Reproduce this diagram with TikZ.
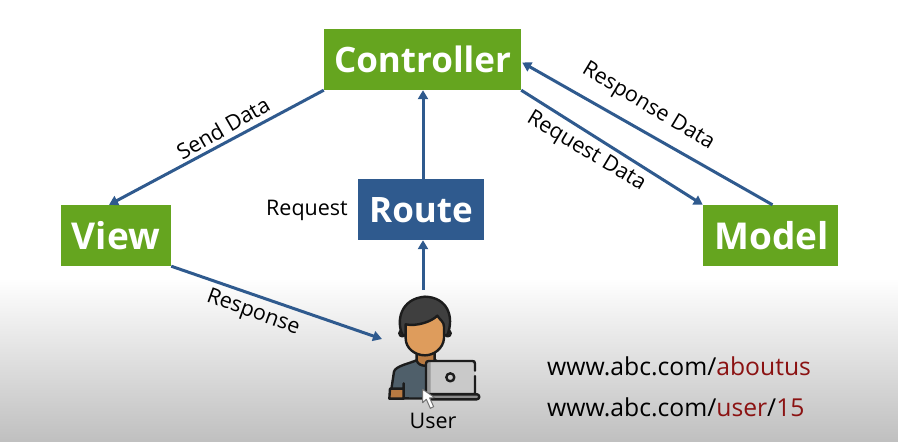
\documentclass[tikz,border=0pt]{standalone}
\usepackage{fontspec}
\setmainfont{Open Sans}
\usetikzlibrary{arrows.meta}
\definecolor{boxgreen}{HTML}{65A51F}
\definecolor{boxblue}{HTML}{2F5A8E}
\definecolor{urlred}{HTML}{8B1212}
\definecolor{iconline}{HTML}{1C1C1C}
\definecolor{skin}{HTML}{DE9C5C}
\definecolor{skindark}{HTML}{B87A42}
\definecolor{hair}{HTML}{3F3F3F}
\definecolor{shirt}{HTML}{4F5F6A}
\definecolor{laptop}{HTML}{C9C9C9}
\tikzset{
  greenbox/.style={fill=boxgreen,text=white,font=\fontsize{35}{35}\selectfont\bfseries,anchor=center,inner sep=0pt},
  bigbox/.style={greenbox,font=\fontsize{37}{37}\selectfont\bfseries},
  bluebox/.style={greenbox,fill=boxblue},
  link/.style={draw=boxblue,line width=3pt,-{Triangle[length=9pt,width=10pt]}},
  lbl/.style={font=\fontsize{21.5}{21.5}\selectfont,text=black,inner sep=0pt},
  urltext/.style={font=\fontsize{24.7}{24.7}\selectfont,text=black,anchor=base west,inner sep=0pt},
  iconstroke/.style={draw=iconline,line width=2.4pt,line join=round,line cap=round}
}
\begin{document}
\begin{tikzpicture}[x=1pt,y=-1pt]
\useasboundingbox (0,0) rectangle (898,442);
\fill[white] (0,0) rectangle (898,442);
\shade[top color=white,bottom color=black!25] (0,278) rectangle (898,442);

\node[greenbox,minimum width=197pt,minimum height=61pt] (ctrl) at (422.5,59.5) {Controller};
\node[bigbox,minimum width=110pt,minimum height=61pt] (view) at (116,235.5) {\raisebox{-13.7pt}[0pt][0pt]{View}};
\node[bluebox,minimum width=126pt,minimum height=61pt] (route) at (421,209.5) {\raisebox{-13pt}[0pt][0pt]{Route}};
\node[bigbox,minimum width=135pt,minimum height=61pt] (model) at (770.5,235.5) {\raisebox{-13.7pt}[0pt][0pt]{\hspace{2pt}Model}};

\coordinate (usertop) at (423,290);
\coordinate (userleft) at (382,339);

\draw[link] (ctrl.south west) -- ([xshift=-7pt]view.north);
\draw[link] ([xshift=2pt]route.north) -- ([xshift=.5pt]ctrl.south);
\draw[link] (usertop) -- ([xshift=2pt]route.south);
\draw[link] (ctrl.south east) -- (model.north west);
\draw[link] ([xshift=2pt]model.north) -- ([yshift=-3pt,xshift=1pt]ctrl.east);
\draw[link] (view.south east) -- (userleft);

\node[lbl,rotate=30] (l1) at (223,128) {Send Data};
\node[lbl,rotate=-31] (l2) at (586,152) {Request Data};
\node[lbl,rotate=-31] (l3) at (648,107) {Response Data};
\node[lbl,anchor=base west] (l4) at (266,215) {Request};
\node[lbl,rotate=-20] (l5) at (253,313) {Response};
\node[lbl,anchor=base] (l6) at (433,428) {User};

\node[urltext] (u1) at (547,375) {www.abc.com/\textcolor{urlred}{aboutus}};
\node[urltext] (u2) at (547,416) {www.abc.com/\textcolor{urlred}{user}/\textcolor{urlred}{15}};

% user icon, in zoomed coordinates
\begin{scope}[shift={(360,280)},x=0.3333pt,y=-0.3333pt]
  % ears
  \filldraw[fill=skindark,iconstroke] (127,160) circle (9);
  \filldraw[fill=skindark,iconstroke] (263,160) circle (9);
  % shirt
  \filldraw[fill=shirt,iconstroke] (90,355) -- (102,275) .. controls (106,258) and (150,250) .. (172,240)
     .. controls (180,262) and (205,262) .. (225,240) -- (240,250) -- (240,356) -- cycle;
  % neck
  \filldraw[fill=skindark,iconstroke] (170,215) -- (170,242) .. controls (178,262) and (208,262) .. (224,242) -- (224,215) -- cycle;
  % hand
  \filldraw[fill=skindark,iconstroke] (90,326) -- (131,326) -- (131,310) -- (131,356) -- (88,356) -- cycle;
  % hair
  \filldraw[fill=hair,iconstroke] (128,165) .. controls (108,125) and (120,56) .. (195,50)
     .. controls (262,52) and (284,110) .. (262,165) -- cycle;
  % face
  \filldraw[fill=skin,iconstroke] (137,133) .. controls (170,140) and (215,125) .. (232,107)
     .. controls (240,120) and (252,125) .. (252,140) -- (252,175) .. controls (250,205) and (222,226) .. (195,226)
     .. controls (165,226) and (137,205) .. (137,175) -- cycle;
  % laptop
  \fill[laptop] (198,342) -- (198,252) .. controls (198,245) and (200,243) .. (207,243)
     -- (337,243) .. controls (343,243) and (345,245) .. (345,252) -- (345,342) -- cycle;
  \fill[black!40] (198,342) -- (198,252) -- (212,243) -- (212,342) -- cycle;
  \draw[iconstroke] (345,272) -- (345,252) .. controls (345,245) and (343,243) .. (337,243) -- (207,243)
     .. controls (200,243) and (198,245) .. (198,252) -- (198,342) -- (345,342) -- (345,288);
  \filldraw[fill=black!45,iconstroke] (200,343) -- (352,343) .. controls (360,345) and (360,358) .. (350,358) -- (205,358) -- cycle;
  \filldraw[fill=laptop,iconstroke] (271,292) circle (12);
  % cursor
  \filldraw[fill=white,draw=black!55,line width=1pt,line join=round] (188,328) -- (188,368) -- (199,358) -- (211,385) -- (221,380) -- (209,354) -- (224,353) -- cycle;
\end{scope}
\end{tikzpicture}
\end{document}
